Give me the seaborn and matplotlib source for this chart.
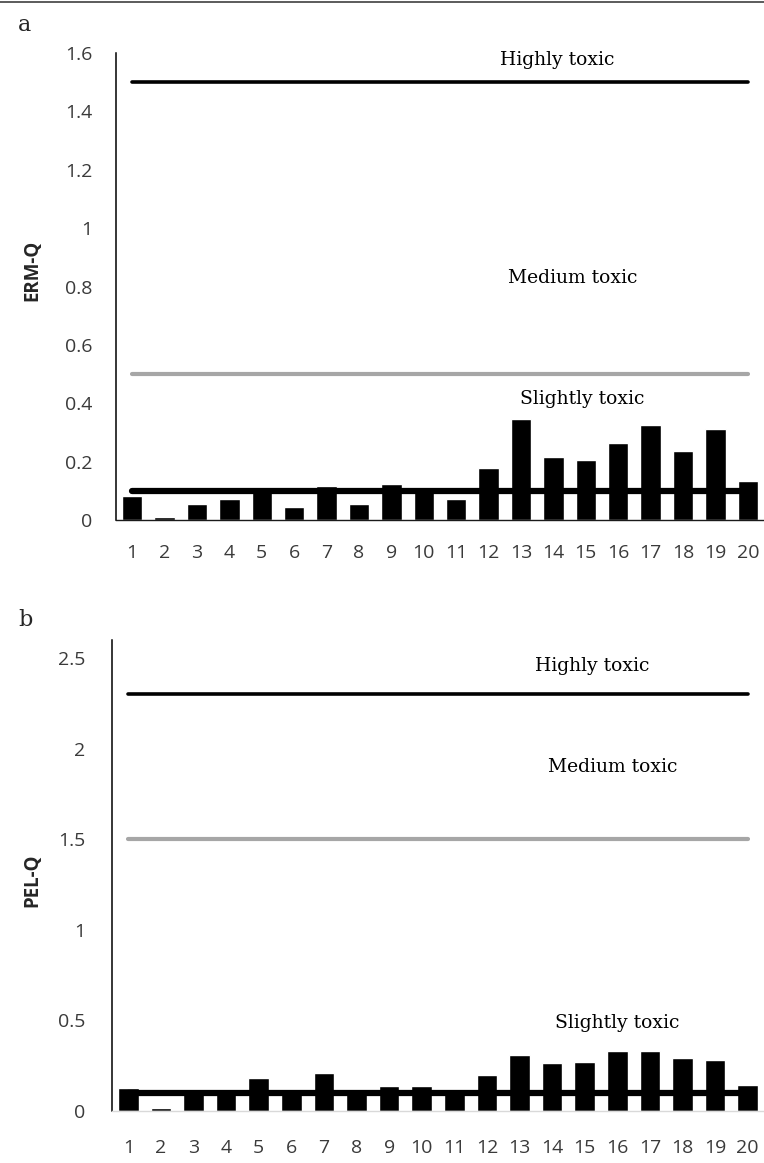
import numpy as np
import pandas as pd
import seaborn as sns
import matplotlib.pyplot as plt

# sampling sites and quotients
sites = [str(i) for i in range(1, 21)]
erm_q = [0.083, 0.010, 0.055, 0.071, 0.100, 0.043, 0.117, 0.055, 0.122, 0.100,
         0.071, 0.177, 0.346, 0.216, 0.205, 0.265, 0.325, 0.238, 0.313, 0.133]
pel_q = [0.127, 0.018, 0.100, 0.118, 0.180, 0.100, 0.208, 0.100, 0.138, 0.136,
         0.100, 0.199, 0.308, 0.263, 0.273, 0.333, 0.333, 0.291, 0.280, 0.145]

# toxicity thresholds (slight, medium, high)
erm_levels = [0.1, 0.5, 1.5]
pel_levels = [0.1, 1.5, 2.3]
level_names = ['Slightly toxic', 'Medium toxic', 'Highly toxic']

sns.set_style('white')
plt.rcParams['font.family'] = ['Open Sans', 'DejaVu Sans']

fig = plt.figure(figsize=(7.64, 11.63), dpi=100)
ax_a = fig.add_axes([116 / 764, 1 - 520 / 1163, 1 - 116 / 764, 467 / 1163])
ax_b = fig.add_axes([112 / 764, 1 - 1111 / 1163, 1 - 112 / 764, 471 / 1163])


def draw_panel(ax, values, levels, ylabel, ylim, yticks, ticklabels, xpad, ypad, base_color, label_xy):
    df = pd.DataFrame({'site': sites, 'q': values})
    sns.barplot(data=df, x='site', y='q', order=sites, color='black',
                width=0.63, saturation=1, ax=ax)
    xs = np.arange(len(sites))
    # threshold lines run from the first to the last site
    sns.lineplot(x=xs, y=np.full(len(sites), levels[0]), color='black', lw=4.5, ax=ax)
    sns.lineplot(x=xs, y=np.full(len(sites), levels[1]), color='#a6a6a6', lw=3, ax=ax)
    sns.lineplot(x=xs, y=np.full(len(sites), levels[2]), color='black', lw=2.6, ax=ax)
    ax.set_xlim(-0.5, len(sites) - 0.5)
    ax.set_ylim(*ylim)
    ax.set_yticks(yticks)
    ax.set_yticklabels(ticklabels)
    ax.set_xlabel('')
    ax.set_ylabel(ylabel, fontsize=13.5, fontweight='bold')
    ax.yaxis.set_label_coords(*label_xy)
    ax.tick_params(axis='y', length=0, pad=ypad, labelsize=14, labelcolor='#3a3a3a')
    ax.tick_params(axis='x', length=0, pad=xpad, labelsize=14, labelcolor='#3a3a3a')
    for s in ['top', 'right']:
        ax.spines[s].set_visible(False)
    ax.spines['left'].set_color('black')
    ax.spines['left'].set_linewidth(1.1)
    ax.spines['bottom'].set_color(base_color)
    ax.spines['bottom'].set_linewidth(1.0)


draw_panel(ax_a, erm_q, erm_levels, 'ERM-Q', (0, 1.6),
           [0, 0.2, 0.4, 0.6, 0.8, 1, 1.2, 1.4, 1.6],
           ['0', '0.2', '0.4', '0.6', '0.8', '1', '1.2', '1.4', '1.6'], 17, 17, '#1a1a1a',
           (-0.114, 0.535))
draw_panel(ax_b, pel_q, pel_levels, 'PEL-Q', (0, 2.6),
           [0, 0.5, 1, 1.5, 2, 2.5],
           ['0', '0.5', '1', '1.5', '2', '2.5'], 20, 19, '#d9d9d9',
           (-0.107, 0.49))

serif = dict(family='DejaVu Serif', fontsize=13.5, ha='center', va='center', color='black')
fig.text(557 / 764, 1 - 60 / 1163, level_names[2], **serif)
fig.text(573 / 764, 1 - 278 / 1163, level_names[1], **serif)
fig.text(582 / 764, 1 - 399 / 1163, level_names[0], **serif)
fig.text(592 / 764, 1 - 666 / 1163, level_names[2], **serif)
fig.text(613 / 764, 1 - 767 / 1163, level_names[1], **serif)
fig.text(617 / 764, 1 - 1023 / 1163, level_names[0], **serif)

fig.text(18 / 764, 1 - 25 / 1163, 'a', family='DejaVu Serif', fontsize=16, va='center')
fig.text(18 / 764, 1 - 620 / 1163, 'b', family='DejaVu Serif', fontsize=16, va='center')

# thin frame line across the top
fig.add_artist(plt.Line2D([0, 1], [1 - 2 / 1163, 1 - 2 / 1163], color='#404040', lw=1.2))

fig.savefig('out.png', dpi=100)
